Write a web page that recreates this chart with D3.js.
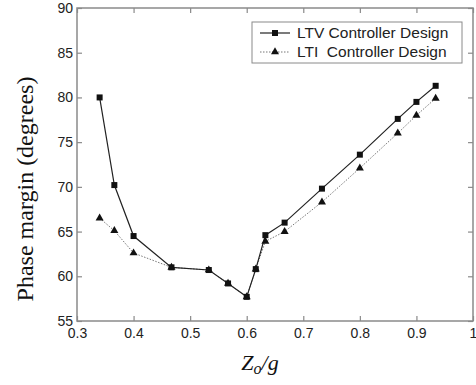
<!DOCTYPE html>
<html>
<head>
<meta charset="utf-8">
<script src="https://cdn.jsdelivr.net/npm/d3@7"></script>
<style>
  body { margin: 0; background: #fff; }
  svg { display: block; }
  .tick text { font-family: "Liberation Sans", Arial, sans-serif; font-size: 14px; fill: #222; }
</style>
</head>
<body>
<svg id="chart" width="476" height="385"></svg>
<script>
const ltvX = [0.34, 0.366, 0.4, 0.467, 0.533, 0.567, 0.6, 0.616, 0.633, 0.667, 0.733, 0.8, 0.867, 0.9, 0.934];
const ltvY = [80.0, 70.2, 64.5, 61.0, 60.7, 59.2, 57.7, 60.8, 64.6, 66.0, 69.8, 73.6, 77.6, 79.5, 81.3];
const ltiX = [0.34, 0.366, 0.4, 0.467, 0.533, 0.567, 0.6, 0.616, 0.633, 0.667, 0.733, 0.8, 0.867, 0.9, 0.934];
const ltiY = [66.5, 65.1, 62.6, 61.0, 60.7, 59.2, 57.7, 60.8, 63.9, 65.0, 68.3, 72.1, 76.0, 78.0, 79.9];
const xTicks = [0.3, 0.4, 0.5, 0.6, 0.7, 0.8, 0.9, 1];
const yTicks = [55, 60, 65, 70, 75, 80, 85, 90];
const seriesNames = ['LTV Controller Design', 'LTI  Controller Design'];

const margin = {left: 77, right: 3, top: 8, bottom: 64};
const width = 476, height = 385;
const svg = d3.select('#chart');

const x = d3.scaleLinear().domain([0.3, 1]).range([margin.left, width - margin.right]);
const y = d3.scaleLinear().domain([55, 90]).range([height - margin.bottom, margin.top]);

const axisColor = '#8a8a8a';

// frame
svg.append('rect')
    .attr('x', x(0.3)).attr('y', y(90))
    .attr('width', x(1) - x(0.3)).attr('height', y(55) - y(90))
    .attr('fill', 'none').attr('stroke', axisColor).attr('stroke-width', 1.5);

const fmtX = d => d === 1 ? '1' : d3.format('.1f')(d);

const xAxis = svg.append('g')
    .attr('transform', `translate(0, ${y(55)})`)
    .call(d3.axisBottom(x).tickValues(xTicks).tickFormat(fmtX).tickSizeInner(-5).tickSizeOuter(0).tickPadding(4));
const xTop = svg.append('g')
    .attr('transform', `translate(0, ${y(90)})`)
    .call(d3.axisTop(x).tickValues(xTicks).tickFormat('').tickSizeInner(-5).tickSizeOuter(0));
const yAxis = svg.append('g')
    .attr('transform', `translate(${x(0.3)}, 0)`)
    .call(d3.axisLeft(y).tickValues(yTicks).tickSizeInner(-5).tickSizeOuter(0).tickPadding(4));
const yRight = svg.append('g')
    .attr('transform', `translate(${x(1)}, 0)`)
    .call(d3.axisRight(y).tickValues(yTicks).tickFormat('').tickSizeInner(-5).tickSizeOuter(0));

[xAxis, xTop, yAxis, yRight].forEach(g => {
    g.select('.domain').remove();
    g.selectAll('.tick line').attr('stroke', axisColor).attr('stroke-width', 1.2);
});
xAxis.selectAll('.tick text').attr('dy', '0.75em').attr('y', 6);

// lines
const ltv = ltvX.map((d, i) => [d, ltvY[i]]);
const lti = ltiX.map((d, i) => [d, ltiY[i]]);
const line = d3.line().x(d => x(d[0])).y(d => y(d[1]));

svg.append('path').datum(lti)
    .attr('d', line).attr('fill', 'none')
    .attr('stroke', '#777').attr('stroke-width', 1).attr('stroke-dasharray', '1.5,1.5');
svg.append('path').datum(ltv)
    .attr('d', line).attr('fill', 'none')
    .attr('stroke', '#222').attr('stroke-width', 1.2);

const tri = d3.symbol().type(d3.symbolTriangle).size(28);
svg.append('g').selectAll('path')
    .data(lti).join('path')
    .attr('d', tri)
    .attr('transform', d => `translate(${x(d[0])}, ${y(d[1])})`)
    .attr('fill', '#111');

svg.append('g').selectAll('rect')
    .data(ltv).join('rect')
    .attr('x', d => x(d[0]) - 3).attr('y', d => y(d[1]) - 3)
    .attr('width', 6).attr('height', 6)
    .attr('fill', '#111');

// legend
const legend = svg.append('g');
legend.append('rect')
    .attr('x', 252).attr('y', 22).attr('width', 210).attr('height', 41)
    .attr('fill', '#fff').attr('stroke', axisColor).attr('stroke-width', 1);

const legY = [33, 52];
legend.append('line').attr('x1', 260).attr('x2', 290).attr('y1', legY[0]).attr('y2', legY[0])
    .attr('stroke', '#222').attr('stroke-width', 1.2);
legend.append('rect').attr('x', 272).attr('y', legY[0] - 3).attr('width', 6).attr('height', 6).attr('fill', '#111');
legend.append('line').attr('x1', 260).attr('x2', 290).attr('y1', legY[1]).attr('y2', legY[1])
    .attr('stroke', '#777').attr('stroke-width', 1).attr('stroke-dasharray', '1.5,1.5');
legend.append('path').attr('d', tri).attr('transform', `translate(275, ${legY[1]})`).attr('fill', '#111');

legend.selectAll('text.leg')
    .data(seriesNames).join('text')
    .attr('class', 'leg')
    .attr('x', 297).attr('y', (d, i) => legY[i] + 5)
    .attr('font-family', '"Liberation Sans", Arial, sans-serif')
    .attr('font-size', 15.5).attr('fill', '#222')
    .attr('xml:space', 'preserve')
    .style('white-space', 'pre')
    .text(d => d);

// axis titles
svg.append('text')
    .attr('transform', `translate(33, 189) rotate(-90)`)
    .attr('text-anchor', 'middle')
    .attr('font-family', '"Liberation Serif", "Times New Roman", serif')
    .attr('font-size', 24).attr('fill', '#111')
    .text('Phase margin (degrees)');

const xt = svg.append('text')
    .attr('x', 260).attr('y', 370)
    .attr('text-anchor', 'middle')
    .attr('font-family', '"Liberation Serif", "Times New Roman", serif')
    .attr('font-style', 'italic')
    .attr('font-size', 22).attr('fill', '#111');
xt.append('tspan').text('Z');
xt.append('tspan').attr('font-size', 16).attr('dy', 4).text('o');
xt.append('tspan').attr('dy', -4).text('/g');
</script>
</body>
</html>
